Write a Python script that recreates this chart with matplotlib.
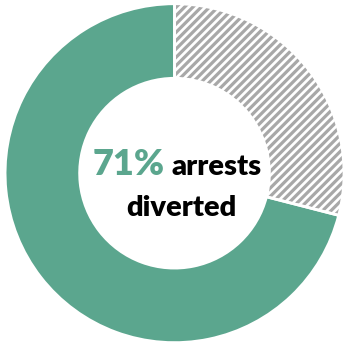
import matplotlib.pyplot as plt

# ---------------------------------------------------------------------------
# Dati
# ---------------------------------------------------------------------------
labels = ["not diverted", "diverted"]
values = [29, 71]
pct_text = "71%"
line1_text = "arrests"
line2_text = "diverted"

GREEN = "#5ba68e"
GRAY = "#a8a8a8"

plt.rcParams["hatch.linewidth"] = 2.3
plt.rcParams["font.family"] = ["Lato", "DejaVu Sans"]

fig = plt.figure(figsize=(3.44, 3.43), dpi=100)
ax = fig.add_axes([0, 0, 1, 1])

wedges, _ = ax.pie(
    values,
    startangle=90,
    counterclock=False,
    radius=1.0,
    colors=["white", GREEN],
    wedgeprops=dict(width=0.44, linewidth=0),
)
wedges[0].set_hatch("////")
wedges[0].set_edgecolor(GRAY)

# bordi bianchi tra i due settori
ax.pie(
    values,
    startangle=90,
    counterclock=False,
    radius=1.0,
    colors=["none", "none"],
    wedgeprops=dict(width=0.44, linewidth=2, edgecolor="white"),
)

ax.set_xlim(-1.03, 1.0)
ax.set_ylim(-1.0, 1.02)
ax.set_aspect("equal")

ax.text(-0.06, -0.01, pct_text, ha="right", va="baseline",
        fontsize=26, fontweight="heavy", color=GREEN)
ax.text(-0.02, -0.01, line1_text, ha="left", va="baseline",
        fontsize=21, fontweight="heavy", color="black")
ax.text(0.04, -0.25, line2_text, ha="center", va="baseline",
        fontsize=21, fontweight="heavy", color="black")

fig.savefig("out.png", dpi=100)
